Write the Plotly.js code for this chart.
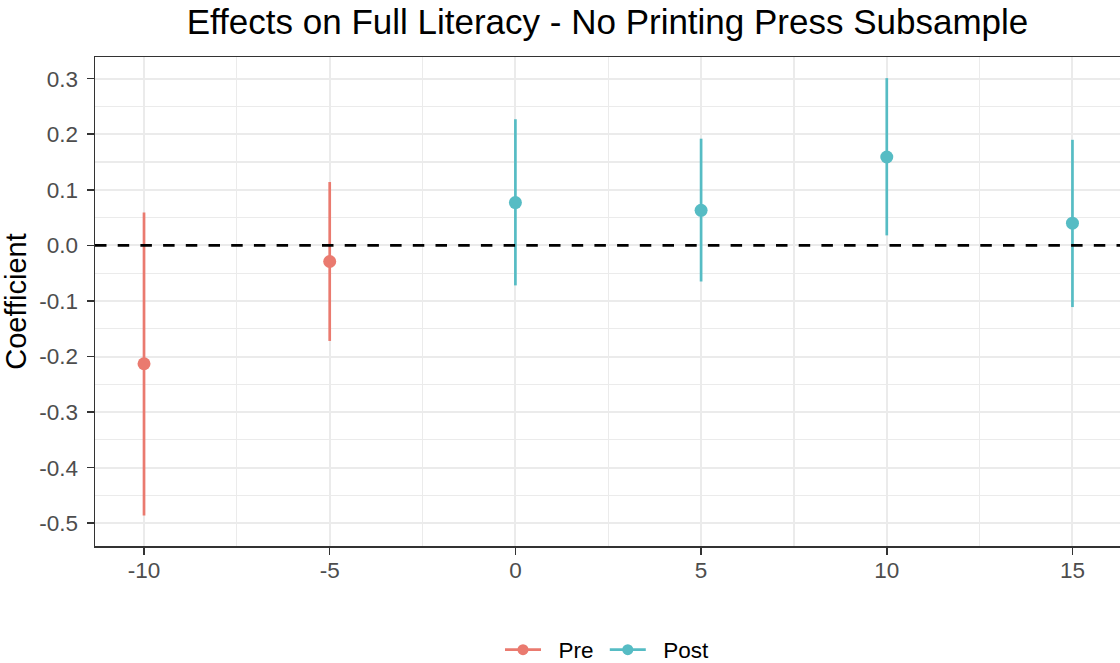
<!DOCTYPE html>
<html>
<head>
<meta charset="utf-8">
<script src="https://cdn.plot.ly/plotly-3.0.1.min.js"></script>
<style>
  html, body { margin: 0; padding: 0; background: #ffffff; overflow: hidden; }
  #chart { width: 1120px; height: 663px; }
</style>
</head>
<body>
<div id="chart"></div>
<script>
// Event-study coefficients with confidence intervals
const preYears = [-10, -5];
const preCoef = [-0.213, -0.029];
const preLower = [-0.486, -0.172];
const preUpper = [0.059, 0.114];

const postYears = [0, 5, 10, 15];
const postCoef = [0.077, 0.063, 0.159, 0.040];
const postLower = [-0.072, -0.065, 0.018, -0.111];
const postUpper = [0.227, 0.192, 0.301, 0.190];

const xTickVals = [-10, -5, 0, 5, 10, 15];
const xTickText = ["-10", "-5", "0", "5", "10", "15"];
const yTickVals = [0.3, 0.2, 0.1, 0.0, -0.1, -0.2, -0.3, -0.4, -0.5];
const yTickText = ["0.3", "0.2", "0.1", "0.0", "-0.1", "-0.2", "-0.3", "-0.4", "-0.5"];

const preColor = "#EA7A6F";
const postColor = "#56BCC4";

function seriesTrace(name, xs, ys, lo, hi, color) {
  return {
    type: "scatter",
    mode: "markers",
    name: name,
    x: xs,
    y: ys,
    marker: { color: color, size: 13, line: { width: 0 } },
    error_y: {
      type: "data",
      symmetric: false,
      array: ys.map((v, i) => hi[i] - v),
      arrayminus: ys.map((v, i) => v - lo[i]),
      color: color,
      thickness: 2.7,
      width: 0
    },
    showlegend: false,
    hoverinfo: "x+y"
  };
}

// Legend-only entries drawn as line + dot keys; non-breaking spaces pad the key/label gap
function legendTrace(label, color) {
  return {
    type: "scatter",
    mode: "lines+markers",
    name: label,
    x: [null],
    y: [null],
    marker: { color: color, size: 11 },
    line: { color: color, width: 2.6 },
    showlegend: true
  };
}

const data = [
  seriesTrace("Pre", preYears, preCoef, preLower, preUpper, preColor),
  seriesTrace("Post", postYears, postCoef, postLower, postUpper, postColor),
  legendTrace("\u00a0\u00a0Pre\u00a0", preColor),
  legendTrace("\u00a0\u00a0Post", postColor)
];

const gridColor = "#EBEBEB";
const axisColor = "#333333";
const fontFamily = "Liberation Sans, Arial, sans-serif";
const tickFont = { family: fontFamily, size: 22.5, color: "#4D4D4D" };

const layout = {
  width: 1120,
  height: 663,
  paper_bgcolor: "#ffffff",
  plot_bgcolor: "#ffffff",
  margin: { l: 95, r: 0, t: 57, b: 117, pad: 0, autoexpand: false },
  font: { family: fontFamily, color: "#000000" },
  title: {
    text: "Effects on Full Literacy - No Printing Press Subsample",
    font: { family: fontFamily, size: 35, color: "#000000" },
    x: 0.5,
    xref: "paper",
    xanchor: "center",
    y: 0.967,
    yref: "container",
    yanchor: "middle",
    pad: { t: 0, b: 0 }
  },
  xaxis: {
    range: [-11.32, 16.28],
    tickmode: "array",
    tickvals: xTickVals,
    ticktext: xTickText,
    tickfont: tickFont,
    ticks: "outside",
    ticklen: 7,
    tickwidth: 1.5,
    tickcolor: axisColor,
    ticklabelstandoff: -4,
    showgrid: true,
    gridcolor: gridColor,
    gridwidth: 2,
    minor: { tickmode: "linear", tick0: -10, dtick: 2.5, showgrid: true, gridcolor: gridColor, gridwidth: 1.2, ticks: "" },
    zeroline: false,
    showline: true,
    linecolor: axisColor,
    linewidth: 1.5,
    mirror: true,
    automargin: false,
    fixedrange: true
  },
  yaxis: {
    range: [-0.541, 0.339],
    tickmode: "array",
    tickvals: yTickVals,
    ticktext: yTickText,
    tickfont: tickFont,
    ticks: "outside",
    ticklen: 7,
    tickwidth: 1.5,
    tickcolor: axisColor,
    ticklabelstandoff: 4,
    showgrid: true,
    gridcolor: gridColor,
    gridwidth: 2,
    minor: { tickmode: "linear", tick0: 0, dtick: 0.05, showgrid: true, gridcolor: gridColor, gridwidth: 1.2, ticks: "" },
    zeroline: false,
    showline: true,
    linecolor: axisColor,
    linewidth: 1.5,
    mirror: false,
    automargin: false,
    title: {
      text: "Coefficient",
      font: { family: fontFamily, size: 29, color: "#000000" },
      standoff: 6
    },
    fixedrange: true
  },
  shapes: [
    {
      type: "line",
      xref: "paper",
      yref: "y",
      x0: 0,
      x1: 1,
      y0: 0,
      y1: 0,
      layer: "above",
      line: { color: "#000000", width: 2.6, dash: "11.5px,11.2px" }
    }
  ],
  legend: {
    orientation: "h",
    x: 0.5,
    xref: "paper",
    xanchor: "center",
    y: 0.0196,
    yref: "container",
    yanchor: "middle",
    font: { family: fontFamily, size: 22.5, color: "#000000" },
    itemwidth: 36,
    bgcolor: "rgba(0,0,0,0)",
    traceorder: "normal"
  },
  showlegend: true
};

Plotly.newPlot("chart", data, layout, { displayModeBar: false, staticPlot: true });
</script>
</body>
</html>
